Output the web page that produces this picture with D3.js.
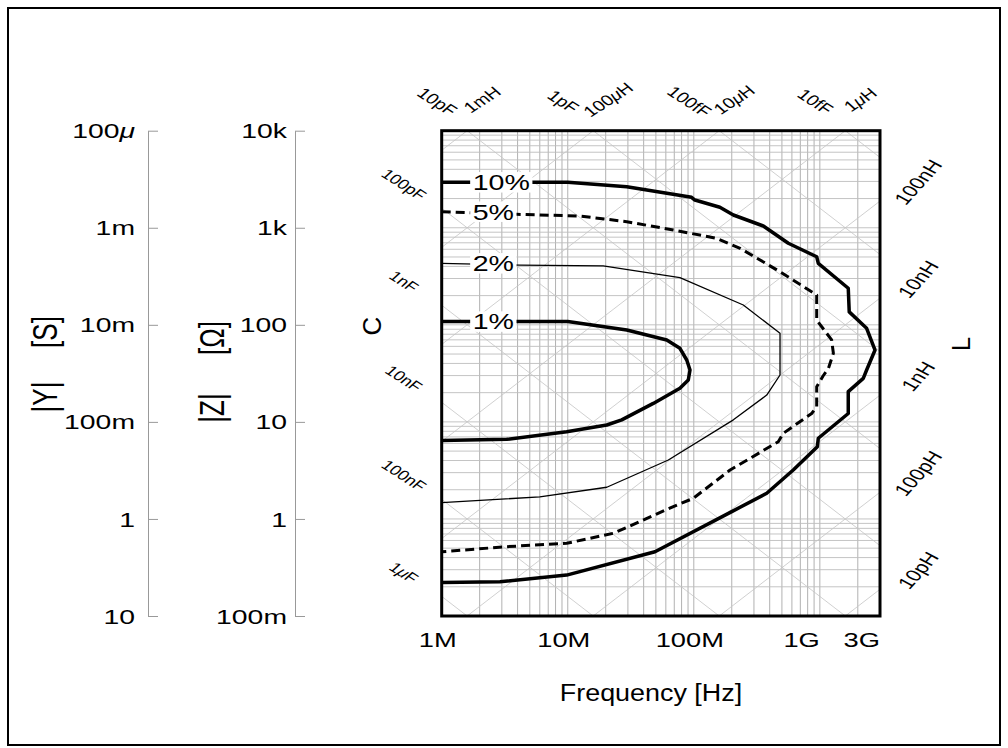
<!DOCTYPE html>
<html>
<head>
<meta charset="utf-8">
<script src="https://cdn.jsdelivr.net/npm/d3@7"></script>
<style>
  body { margin: 0; background: #fff; }
  svg text { font-family: "Liberation Sans", Arial, sans-serif; fill: #000; }
</style>
</head>
<body>
<div id="chart"></div>
<script>
// axis ticks
const freqTicks = [1e6, 1e7, 1e8, 1e9, 3e9];
const freqLabels = ["1M", "10M", "100M", "1G", "3G"];
const zTicks = [1e4, 1e3, 100, 10, 1, 0.1];
const zLabels = ["10k", "1k", "100", "10", "1", "100m"];
const yLabels = ["100μ", "1m", "10m", "100m", "1", "10"];

// C / L diagonal labels
const capSide = [1e-10, 1e-9, 1e-8, 1e-7, 1e-6];
const capSideLabels = ["100pF", "1nF", "10nF", "100nF", "1μF"];
const capTop = [1e-11, 1e-12, 1e-13, 1e-14];
const capTopLabels = ["10pF", "1pF", "100fF", "10fF"];
const indTop = [1e-3, 1e-4, 1e-5, 1e-6];
const indTopLabels = ["1mH", "100μH", "10μH", "1μH"];
const indSide = [1e-7, 1e-8, 1e-9, 1e-10, 1e-11];
const indSideLabels = ["100nH", "10nH", "1nH", "100pH", "10pH"];
const capGrid = [1e-14, 1e-13, 1e-12, 1e-11, 1e-10, 1e-9, 1e-8, 1e-7, 1e-6];
const indGrid = [1e-11, 1e-10, 1e-9, 1e-8, 1e-7, 1e-6, 1e-5, 1e-4, 1e-3];

// accuracy contours: [frequency Hz, |Z| ohm]
const curve10 = [[1e6,2940],[10e6,2940],[29.4e6,2650],[96e6,2060],[102e6,1930],[161e6,1625],[206e6,1353],
  [356e6,1043],[562e6,692],[944e6,503],[972e6,430],[1.68e9,238],[1.71e9,136],[2.35e9,92],[2.74e9,55],
  [2.35e9,34.2],[2.21e9,28.1],[1.68e9,20.5],[1.68e9,12.2],[972e6,6.78],[955e6,5.55],[615e6,3.19],
  [379e6,1.84],[200e6,1.19],[49.2e6,0.459],[9.8e6,0.264],[2.9e6,0.225],[1e6,0.222]];
const curve5 = [[1e6,1464],[3.94e6,1376],[12.5e6,1322],[29.4e6,1154],[68.8e6,948],[152e6,778],[233e6,614],
  [483e6,352],[944e6,203],[944e6,112],[1.24e9,69.8],[1.28e9,50.9],[1.17e9,35.6],[1.06e9,29.7],[944e6,23],
  [944e6,14.3],[861e6,12.2],[513e6,7.63],[468e6,6.25],[194e6,3.19],[99e6,1.63],[68.8e6,1.34],[23e6,0.711],
  [9.8e6,0.561],[3.28e6,0.518],[1e6,0.459]];
const curve2 = [[1e6,430],[4.18e6,413],[19.1e6,404],[77.6e6,306],[247e6,160],[483e6,81.8],[483e6,30.4],
  [379e6,18.9],[206e6,10.5],[62.8e6,4.05],[20.4e6,2.12],[6.0e6,1.69],[1e6,1.47]];
const curve1 = [[1e6,108],[10e6,108],[29.4e6,88.5],[61e6,69.8],[77.6e6,57.3],[87.9e6,43.4],[93.3e6,34.2],
  [90.4e6,27],[77.6e6,22.2],[47.7e6,15.5],[26.8e6,10.5],[20.4e6,9.29],[9.8e6,7.92],[3.28e6,6.61],[1e6,6.43]];
const curveNames = ["10%", "5%", "2%", "1%"];

const width = 1008, height = 748;
const svg = d3.select('#chart').append('svg')
  .attr('width', width).attr('height', height);

// outer frame
svg.append('rect').attr('x', 8).attr('y', 8).attr('width', 992).attr('height', 737)
  .attr('fill', 'none').attr('stroke', '#000').attr('stroke-width', 2);

const x = d3.scaleLog().domain([1e6, 3e9]).range([441.7, 880]);
const y = d3.scaleLog().domain([0.1, 1e4]).range([616, 130.7]);
const [x0, x1] = x.range();
const [y0, y1] = y.range();

const twoPi = 2 * Math.PI;
const zC = (f, c) => 1 / (twoPi * f * c);
const zL = (f, l) => twoPi * f * l;

// writes a label, mu drawn italic
function fillLabel(t, str) {
  const parts = str.split('μ');
  parts.forEach((p, i) => {
    if (i > 0) t.append('tspan').style('font-style', 'italic').text('μ');
    if (p) t.append('tspan').text(p);
  });
  return t;
}

// plot clip
svg.append('clipPath').attr('id', 'plotClip').append('rect')
  .attr('x', x0).attr('y', y1).attr('width', x1 - x0).attr('height', y0 - y1);
const grid = svg.append('g').attr('clip-path', 'url(#plotClip)');

// grid
grid.selectAll('line.v').data(x.ticks()).join('line').attr('class', 'v')
  .attr('x1', d => x(d)).attr('x2', d => x(d)).attr('y1', y1).attr('y2', y0)
  .attr('stroke', '#a8a8a8').attr('stroke-width', 0.9);
grid.selectAll('line.h').data(y.ticks()).join('line').attr('class', 'h')
  .attr('y1', d => y(d)).attr('y2', d => y(d)).attr('x1', x0).attr('x2', x1)
  .attr('stroke', '#bdbdbd').attr('stroke-width', 0.9);

const fLo = 1e5, fHi = 1e10;
grid.selectAll('line.c').data(capGrid).join('line').attr('class', 'c')
  .attr('x1', x(fLo)).attr('y1', d => y(zC(fLo, d)))
  .attr('x2', x(fHi)).attr('y2', d => y(zC(fHi, d)))
  .attr('stroke', '#c4c4c4').attr('stroke-width', 0.8);
grid.selectAll('line.l').data(indGrid).join('line').attr('class', 'l')
  .attr('x1', x(fLo)).attr('y1', d => y(zL(fLo, d)))
  .attr('x2', x(fHi)).attr('y2', d => y(zL(fHi, d)))
  .attr('stroke', '#c4c4c4').attr('stroke-width', 0.8);

// contours
const line = d3.line().x(d => x(d[0])).y(d => y(d[1]));
const curves = [curve10, curve5, curve2, curve1];
const strokeW = [3.5, 3, 1.3, 3.5];
const dash = [null, '9,5', null, null];
curves.forEach((c, i) => {
  svg.append('path').datum(c).attr('d', line)
    .attr('fill', 'none').attr('stroke', '#000')
    .attr('stroke-width', strokeW[i])
    .attr('stroke-dasharray', dash[i])
    .attr('stroke-linejoin', 'round');
});

// curve labels over white boxes
curves.forEach((c, i) => {
  const g = svg.append('g')
    .attr('transform', `translate(${x0 + 31},${y(c[0][1])}) scale(1.27,1)`);
  const t = g.append('text').attr('font-size', 22.5)
    .attr('dominant-baseline', 'central').text(curveNames[i]);
  const b = t.node().getBBox();
  g.insert('rect', 'text').attr('x', b.x - 2).attr('y', b.y + 2)
    .attr('width', b.width + 4).attr('height', b.height - 4).attr('fill', '#fff');
});

// plot frame
svg.append('rect').attr('x', x0).attr('y', y1).attr('width', x1 - x0).attr('height', y0 - y1)
  .attr('fill', 'none').attr('stroke', '#000').attr('stroke-width', 3);

// frequency axis labels
freqTicks.forEach((f, i) => {
  const isG = freqLabels[i].endsWith('G');
  svg.append('text')
    .attr('transform', `translate(${x(f) + (isG ? 0 : -4)},647) scale(1.3,1)`)
    .attr('text-anchor', isG ? 'end' : 'middle')
    .attr('font-size', 21).text(freqLabels[i]);
});
svg.append('text').attr('transform', `translate(651,701) scale(1.17,1)`)
  .attr('text-anchor', 'middle').attr('font-size', 23).text('Frequency [Hz]');

// |Y| and |Z| scales on the left
function sideAxis(ax, labels, labelEnd) {
  const g = svg.append('g').attr('transform', `translate(${ax},0)`)
    .call(d3.axisRight(y).tickValues(zTicks).tickSize(10).tickSizeOuter(0).tickFormat(''));
  g.select('.domain').attr('stroke', '#999');
  g.selectAll('.tick line').attr('stroke', '#999');
  zTicks.forEach((v, i) => {
    const t = svg.append('text')
      .attr('transform', `translate(${labelEnd},${y(v)}) scale(1.35,1)`)
      .attr('text-anchor', 'end').attr('dominant-baseline', 'central')
      .attr('font-size', 21);
    fillLabel(t, labels[i]);
  });
}
sideAxis(148, yLabels, 135);
sideAxis(295, zLabels, 287);

function rotLabel(cx, cy, str, size, sx) {
  svg.append('text').attr('transform', `translate(${cx},${cy}) scale(${sx},1) rotate(-90)`)
    .attr('text-anchor', 'middle').attr('dominant-baseline', 'central')
    .attr('font-size', size).text(str);
}
rotLabel(45, 397, '|Y|', 26, 1.35);
rotLabel(45, 332, '[S]', 26, 1.35);
rotLabel(212, 408, '|Z|', 26, 1.35);
rotLabel(212, 338, '[Ω]', 26, 1.35);
rotLabel(372, 326, 'C', 26, 1);
rotLabel(961, 344, 'L', 26, 1);

// diagonal C / L labels
function diagLabel(cx, cy, str, size, angle) {
  const t = svg.append('text')
    .attr('transform', `translate(${cx},${cy}) scale(1.3,1) rotate(${angle})`)
    .attr('text-anchor', 'middle').attr('dominant-baseline', 'central')
    .attr('font-size', size);
  fillLabel(t, str);
}
capSide.forEach((c, i) => diagLabel(404, y(zC(1e6, c)) - 24, capSideLabels[i], 14, 40));
indSide.forEach((l, i) => diagLabel(918, y(zL(3e9, l)) - 19, indSideLabels[i], 17, -55));
capTop.forEach((c, i) => diagLabel(x(1 / (twoPi * 1e4 * c)) - 30, y1 - 29, capTopLabels[i], 15, 40));
indTop.forEach((l, i) => diagLabel(x(1e4 / (twoPi * l)) + 15, y1 - 31, indTopLabels[i], 15, -40));
</script>
</body>
</html>
